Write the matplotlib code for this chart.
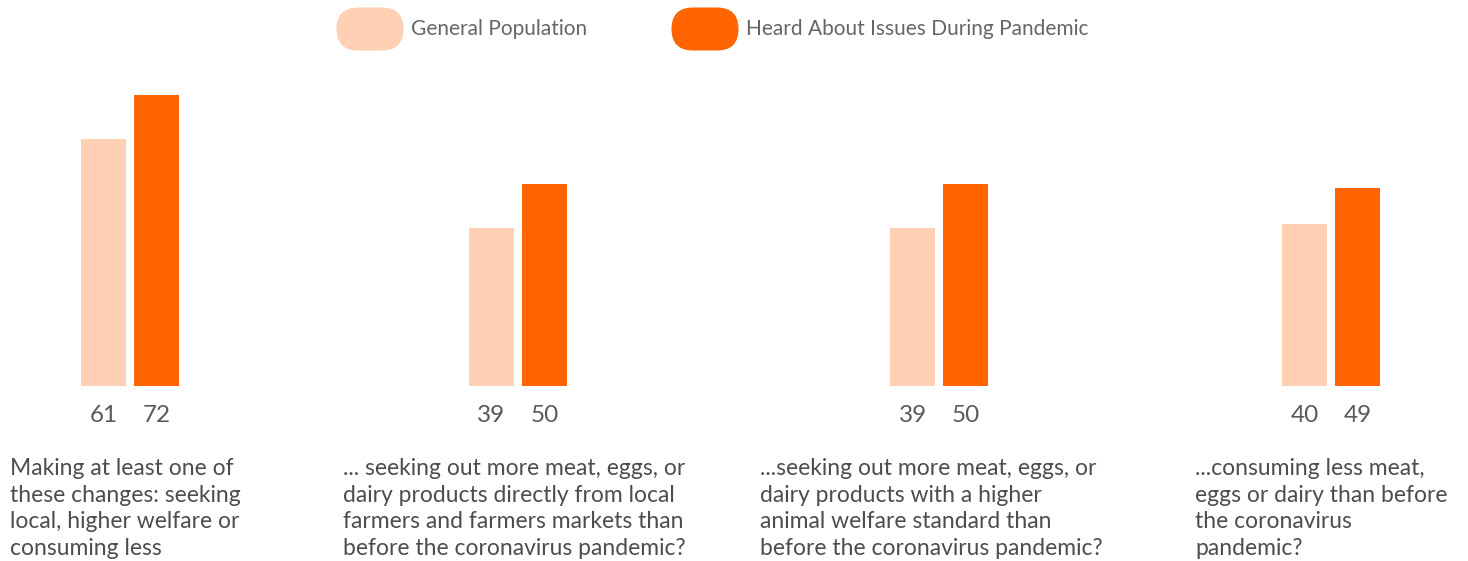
import matplotlib.pyplot as plt
from matplotlib.patches import FancyBboxPatch

plt.rcParams['font.family'] = ['Lato', 'DejaVu Sans']

series = ["General Population", "Heard About Issues During Pandemic"]
colors = ["#ffd0b3", "#ff6400"]
general = [61, 39, 39, 40]
heard = [72, 50, 50, 49]
categories = [
    "Making at least one of\nthese changes: seeking\nlocal, higher welfare or\nconsuming less",
    "... seeking out more meat, eggs, or\ndairy products directly from local\nfarmers and farmers markets than\nbefore the coronavirus pandemic?",
    "...seeking out more meat, eggs, or\ndairy products with a higher\nanimal welfare standard than\nbefore the coronavirus pandemic?",
    "...consuming less meat,\neggs or dairy than before\nthe coronavirus\npandemic?",
]

# layout (pixels)
W, H = 1468, 561
centers = [130, 518, 939, 1331]
text_left = [10, 343, 760, 1195]
bar_w, gap = 45, 8

fig = plt.figure(figsize=(W / 100, H / 100), dpi=100)

# overlay in pixel coordinates for legend and category text
over = fig.add_axes([0, 0, 1, 1])
over.set_xlim(0, W)
over.set_ylim(H, 0)
over.axis("off")

# bars
base_y, top_y = 386, 95
ax = fig.add_axes([0, (H - base_y) / H, 1, (base_y - top_y) / H])
ax.set_xlim(0, W)
ax.set_ylim(0, max(heard))
ax.axis("off")

off = (bar_w + gap) / 2
x1 = [c - off for c in centers]
x2 = [c + off for c in centers]
ax.bar(x1, general, width=bar_w, color=colors[0])
ax.bar(x2, heard, width=bar_w, color=colors[1])

for xs, vals in [(x1, general), (x2, heard)]:
    for x, v in zip(xs, vals):
        ax.annotate(str(v), xy=(x, 0), xytext=(0, -21), textcoords="offset points",
                    ha="center", va="center", fontsize=17.5, color="#5a5a5a")

for x, txt in zip(text_left, categories):
    over.text(x, 458, txt, ha="left", va="top", fontsize=16.5,
              color="#4d4d4d", linespacing=1.33)

# legend pills
legend_x = [337, 672]
for lx, lab, col in zip(legend_x, series, colors):
    over.add_patch(FancyBboxPatch((lx + 21, 8 + 21), 66 - 42, 0,
                                  boxstyle="round,pad=21.5", fc=col, ec="none"))
    over.text(lx + 74, 29, lab, ha="left", va="center", fontsize=15, color="#666666")

fig.savefig("out.png", dpi=100)
